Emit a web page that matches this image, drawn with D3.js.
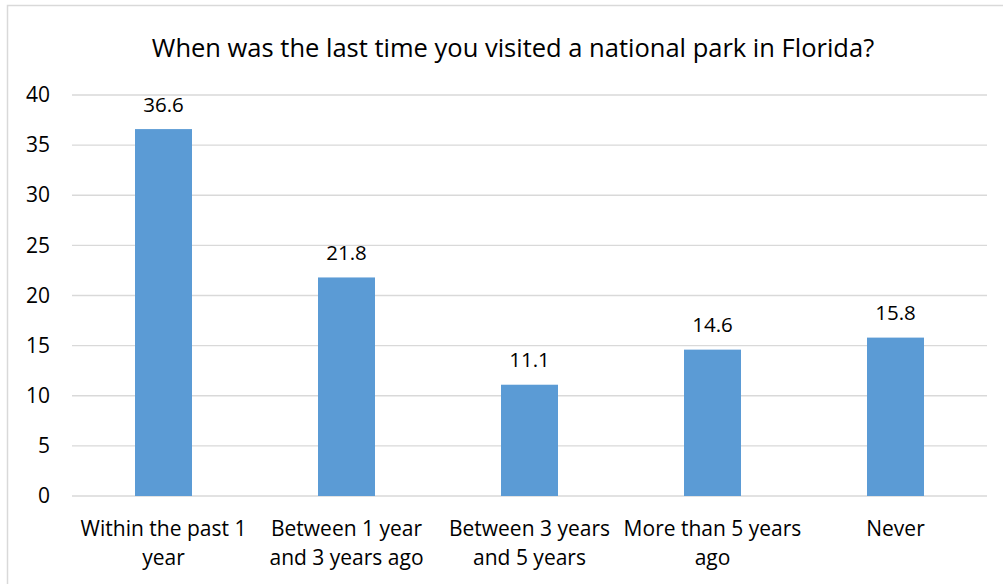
<!DOCTYPE html>
<html>
<head>
<meta charset="utf-8">
<script src="https://cdn.jsdelivr.net/npm/d3@7"></script>
<style>
  html, body { margin: 0; padding: 0; background: #fff; }
  svg { display: block; }
  text { font-family: "Open Sans", sans-serif; fill: #000; }
</style>
</head>
<body>
<svg id="chart" width="1003" height="584"></svg>
<script>
const title = "When was the last time you visited a national park in Florida?";
const categories = ["Within the past 1\nyear", "Between 1 year\nand 3 years ago", "Between 3 years\nand 5 years", "More than 5 years\nago", "Never"];
const values = [36.6, 21.8, 11.1, 14.6, 15.8];
const yTicks = [0, 5, 10, 15, 20, 25, 30, 35, 40];

const svg = d3.select("#chart");
const W = 1003, H = 584;
const plot = { left: 72, right: 987, top: 95, bottom: 496 };

// outer border (left and top visible)
svg.append("rect")
  .attr("x", 7.5).attr("y", 5.5)
  .attr("width", W + 20).attr("height", H + 20)
  .attr("fill", "none").attr("stroke", "#D9D9D9").attr("stroke-width", 1.5);

const x = d3.scaleBand().domain(categories).range([plot.left, plot.right]).paddingInner(0).paddingOuter(0);
const y = d3.scaleLinear().domain([0, 40]).range([plot.bottom, plot.top]);
const barW = 57;

// gridlines
svg.append("g").selectAll("line").data(yTicks).join("line")
  .attr("x1", plot.left).attr("x2", plot.right)
  .attr("y1", d => y(d)).attr("y2", d => y(d))
  .attr("stroke", "#D9D9D9").attr("stroke-width", 1.3);

// y axis labels
const yAxis = d3.axisLeft(y).tickValues(yTicks).tickSize(0).tickPadding(0);
const gy = svg.append("g").attr("transform", "translate(50,0)").call(yAxis);
gy.select(".domain").remove();
gy.selectAll("text").style("font-family", "Open Sans, sans-serif").style("font-size", "21px").attr("fill", "#000");

// bars
svg.append("g").selectAll("rect").data(values).join("rect")
  .attr("x", (d, i) => x(categories[i]) + x.bandwidth() / 2 - barW / 2)
  .attr("y", d => y(d))
  .attr("width", barW)
  .attr("height", d => y(0) - y(d))
  .attr("fill", "#5B9BD5");

// data labels
svg.append("g").selectAll("text").data(values).join("text")
  .attr("x", (d, i) => x(categories[i]) + x.bandwidth() / 2)
  .attr("y", d => y(d) - 17.5)
  .attr("text-anchor", "middle")
  .style("font-size", "20.5px")
  .text(d => d.toFixed(1));

// category labels
const cl = svg.append("g").selectAll("text").data(categories).join("text")
  .attr("x", d => x(d) + x.bandwidth() / 2)
  .attr("y", 536)
  .attr("text-anchor", "middle")
  .style("font-size", "21px");
cl.each(function(d) {
  const lines = d.split("\n");
  const t = d3.select(this);
  lines.forEach((ln, k) => {
    t.append("tspan").attr("x", x(d) + x.bandwidth() / 2).attr("y", 536 + k * 29).text(ln);
  });
});

// title
svg.append("text")
  .attr("x", 513).attr("y", 57)
  .attr("text-anchor", "middle")
  .style("font-size", "25.5px")
  .text(title);
</script>
</body>
</html>
